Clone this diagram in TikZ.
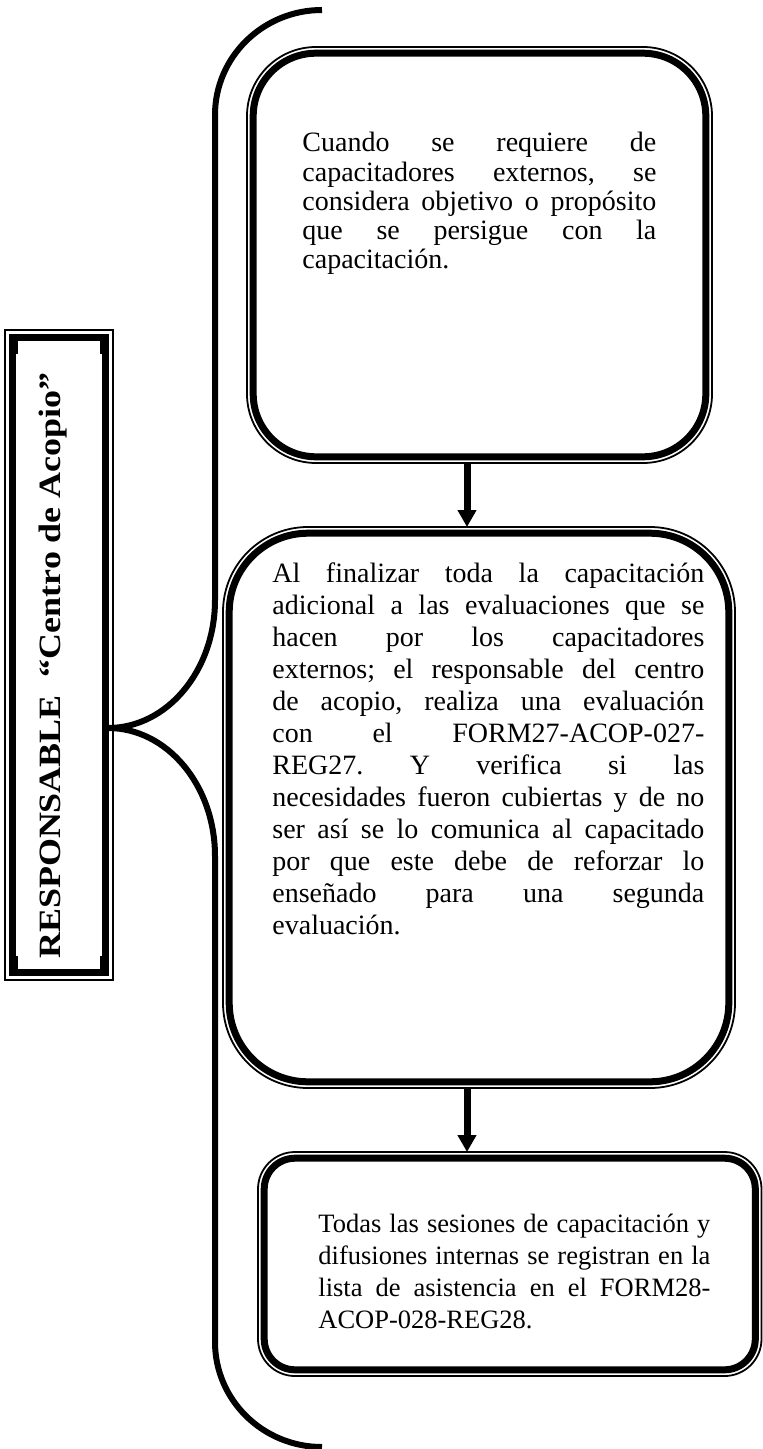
\documentclass[tikz,border=0pt]{standalone}
\usepackage{fontspec}
\usepackage{graphicx}
\setmainfont{Liberation Serif}
\usetikzlibrary{arrows.meta}
\newcommand\jl[1]{\hbox to\linewidth{\spaceskip=.25em plus 1fil minus .06em\relax #1}}
\newcommand\lastl[1]{\hbox{#1}}
\newcommand\bodysize{\fontsize{14pt}{14.6pt}\selectfont\frenchspacing}
\newcommand\smallbodysize{\fontsize{13.25pt}{16pt}\selectfont\frenchspacing}
\begin{document}
\begin{tikzpicture}[x=0.5pt,y=-0.5pt,
  outerframe/.style={draw, line width=0.9pt, inner sep=0pt, outer sep=0pt},
  thickframe/.style={line width=3.5pt},
  sideframe/.style={line width=3.25pt},
  bracestyle/.style={line width=3pt},
  flow/.style={line width=3.5pt, -{Triangle[width=9pt,length=8.5pt]}},
  bodytext/.style={inner sep=0pt, anchor=base west},
]
\useasboundingbox (0,0) rectangle (763,1449);

% left title frame
\node[outerframe, minimum width=54pt, minimum height=325pt] (L) at (59,655) {};
\draw[sideframe] ([shift={(7.5,7.5)}]L.north west) rectangle ([shift={(-7.5,-7.5)}]L.south east);
\fill ([shift={(4.25,4.25)}]L.north west) rectangle ([shift={(13,24)}]L.north west);
\fill ([shift={(-4.25,4.25)}]L.north east) rectangle ([shift={(-13,24)}]L.north east);
\fill ([shift={(4.25,-4.25)}]L.south west) rectangle ([shift={(13,-24)}]L.south west);
\fill ([shift={(-4.25,-4.25)}]L.south east) rectangle ([shift={(-13,-24)}]L.south east);
\node[rotate=90, anchor=base, inner sep=0pt, font=\bfseries\fontsize{15.5pt}{18pt}\selectfont] (title) at (60,665.5) {\scalebox{1.16}[1]{RESPONSABLE~ “Centro de Acopio”}};

% boxes
\node[outerframe, rounded corners=34.5pt, minimum width=232.5pt, minimum height=208pt] (b1) at (479.5,255) {};
\draw[thickframe, rounded corners=31.4pt] ([shift={(6.2,6.2)}]b1.north west) rectangle ([shift={(-6.2,-6.2)}]b1.south east);
\node[outerframe, rounded corners=42.5pt, minimum width=256pt, minimum height=280.5pt] (b2) at (479,807.5) {};
\draw[thickframe, rounded corners=39.4pt] ([shift={(6.2,6.2)}]b2.north west) rectangle ([shift={(-6.2,-6.2)}]b2.south east);
\node[outerframe, rounded corners=18.5pt, minimum width=251.75pt, minimum height=112pt] (b3) at (509.75,1264) {};
\draw[thickframe, rounded corners=15.4pt] ([shift={(6.2,6.2)}]b3.north west) rectangle ([shift={(-6.2,-6.2)}]b3.south east);

% texts
\node[bodytext] (t1) at (302,152) {\begin{minipage}[t]{177pt}\bodysize
\jl{Cuando se requiere de}
\jl{capacitadores externos, se}
\jl{considera objetivo o propósito}
\jl{que se persigue con la}
\lastl{capacitación.}
\end{minipage}};
\node[bodytext] (t2) at (272,582) {\begin{minipage}[t]{216pt}\bodysize\setlength\baselineskip{16pt}
\jl{Al finalizar toda la capacitación}
\jl{adicional a las evaluaciones que se}
\jl{hacen por los capacitadores}
\jl{externos; el responsable del centro}
\jl{de acopio, realiza una evaluación}
\jl{con el FORM27-ACOP-027-}
\jl{REG27. Y verifica si las}
\jl{necesidades fueron cubiertas y de no}
\jl{ser así se lo comunica al capacitado}
\jl{por que este debe de reforzar lo}
\jl{enseñado para una segunda}
\lastl{evaluación.}
\end{minipage}};
\node[bodytext] (t3) at (318,1232) {\begin{minipage}[t]{196pt}\smallbodysize
\jl{Todas las sesiones de capacitación y}
\jl{difusiones internas se registran en la}
\jl{lista de asistencia en el FORM28-}
\lastl{ACOP-028-REG28.}
\end{minipage}};

% arrows
\coordinate (ax) at (467,0);
\draw[flow] (b1.south -| ax) -- (b2.north -| ax);
\draw[flow] (b2.south -| ax) -- (b3.north -| ax);

% brace
\coordinate (btop) at (322,10);
\coordinate (bbot) at (322,1447);
\coordinate (tip) at (108,728);
\draw[bracestyle] (btop) .. controls (262.9,10) and (215,57) .. (215,115) -- (215,600)
  .. controls (215,670.7) and (167.1,728) .. (tip)
  .. controls (167.1,728) and (215,785.3) .. (215,856) -- (215,1342)
  .. controls (215,1400) and (262.9,1447) .. (bbot);
\end{tikzpicture}
\end{document}
